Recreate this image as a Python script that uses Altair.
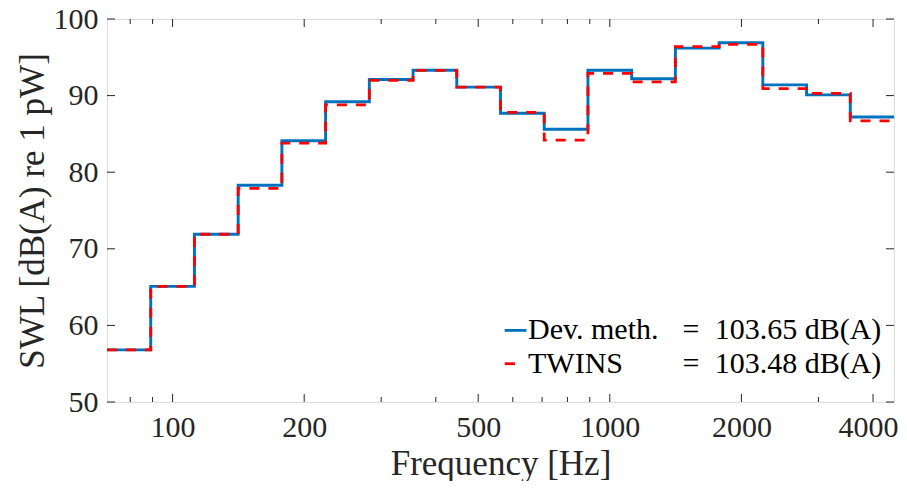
import altair as alt
import pandas as pd
import numpy as np

# ---- data ----
bands = [80, 100, 125, 160, 200, 250, 315, 400, 500, 630, 800, 1000, 1250, 1600, 2000, 2500, 3150, 4000]
dev_meth = [56.8, 65.1, 71.9, 78.3, 84.1, 89.2, 92.1, 93.3, 91.1, 87.7, 85.6, 93.3, 92.2, 96.2, 96.9, 91.4, 90.1, 87.2]
twins = [56.8, 65.1, 71.9, 77.9, 83.8, 88.8, 92.0, 93.3, 91.1, 87.8, 84.2, 92.9, 91.8, 96.4, 96.7, 90.9, 90.3, 86.7]
series_names = ["Dev. meth.", "TWINS"]
series_totals = [103.65, 103.48]
x_major = [100, 200, 500, 1000, 2000, 4000]
x_minor = [80, 90, 300, 400, 600, 700, 800, 900, 3000]
y_ticks = [50, 60, 70, 80, 90, 100]

FONT = "Liberation Serif"
AX = "#262626"
BLUE = "#0072BD"
RED = "#FF0000"
W, H = 787, 383


def edges(fc):
    n = round(10 * np.log10(fc))
    return 10 ** ((n - 0.5) / 10), 10 ** ((n + 0.5) / 10)


def step_df(vals):
    rows = []
    for i, (fc, v) in enumerate(zip(bands, vals)):
        lo, hi = edges(fc)
        rows.append({"f": lo, "v": v, "o": 2 * i})
        rows.append({"f": hi, "v": v, "o": 2 * i + 1})
    return pd.DataFrame(rows)


xmin = edges(bands[0])[0]
xmax = edges(bands[-1])[1]
xscale = alt.Scale(type="log", domain=[xmin, xmax], nice=False)
yscale = alt.Scale(domain=[50, 100], nice=False, zero=False)

xaxis = alt.Axis(values=x_major, format="d", title="Frequency [Hz]", ticks=False, domain=False, grid=False,
                 labelFont=FONT, labelFontSize=30, labelColor=AX, labelPadding=10, labelOverlap=False,
                 labelFlush=False, labelBound=False,
                 labelOffset={"condition": {"test": "datum.value == 4000", "value": -5}, "value": 0},
                 titleFont=FONT, titleFontSize=35, titleFontWeight="normal", titleColor=AX, titlePadding=4)
yaxis = alt.Axis(values=y_ticks, title="SWL [dB(A) re 1 pW]", ticks=False, domain=False, grid=False,
                 labelFont=FONT, labelFontSize=30, labelColor=AX, labelPadding=9, labelOverlap=False,
                 labelFlush=False, labelBound=False,
                 titleFont=FONT, titleFontSize=35, titleFontWeight="normal", titleColor=AX, titlePadding=3)

blue = alt.Chart(step_df(dev_meth)).mark_line(color=BLUE, strokeWidth=2.9).encode(
    x=alt.X("f:Q", scale=xscale, axis=xaxis),
    y=alt.Y("v:Q", scale=yscale, axis=yaxis),
    order="o:Q",
)
red = alt.Chart(step_df(twins)).mark_line(color=RED, strokeWidth=2.8, strokeDash=[10, 9]).encode(
    x=alt.X("f:Q", scale=xscale),
    y=alt.Y("v:Q", scale=yscale),
    order="o:Q",
)


def xticks(vals, size, top):
    d = pd.DataFrame({"t": vals})
    if top:
        yy, yy2 = alt.value(0), alt.value(size)
    else:
        yy, yy2 = alt.value(H), alt.value(H - size)
    return alt.Chart(d).mark_rule(color=AX, strokeWidth=1).encode(
        x=alt.X("t:Q", scale=xscale), y=yy, y2=yy2)


def yticks(vals, size, right):
    d = pd.DataFrame({"t": vals})
    if right:
        xx, xx2 = alt.value(W), alt.value(W - size)
    else:
        xx, xx2 = alt.value(0), alt.value(size)
    return alt.Chart(d).mark_rule(color=AX, strokeWidth=1).encode(
        y=alt.Y("t:Q", scale=yscale), x=xx, x2=xx2)


tick_layers = [
    xticks(x_major, 8, False), xticks(x_major, 8, True),
    xticks(x_minor, 5, False), xticks(x_minor, 5, True),
    yticks(y_ticks, 8, False), yticks(y_ticks, 8, True),
]

# ---- legend (manual, to keep the "=" column aligned) ----
leg = pd.DataFrame({
    "name": series_names,
    "eq": ["="] * 2,
    "tot": [f"{t:.2f} dB(A)" for t in series_totals],
})
row_y = [319.5, 353.5]
sym_y = [311.4, 344.7]
legend_layers = []
for i, (col, x2) in enumerate([(BLUE, 419.4), (RED, 408)]):
    d = leg.iloc[[i]]
    legend_layers.append(alt.Chart(d).mark_rule(color=col, strokeWidth=2.8).encode(
        x=alt.value(397.7), x2=alt.value(x2), y=alt.value(sym_y[i])))
    for field, xpos in [("name", 421), ("eq", 575.4), ("tot", 607.7)]:
        legend_layers.append(alt.Chart(d).mark_text(
            align="left", baseline="alphabetic", font=FONT, fontSize=30, color="#000000").encode(
            text=f"{field}:N", x=alt.value(xpos), y=alt.value(row_y[i])))

chart = alt.layer(blue, red, *tick_layers, *legend_layers).properties(
    width=W, height=H,
    autosize=alt.AutoSizeParams(type="none"),
    padding={"left": 99, "top": 11, "right": 5, "bottom": 79},
).configure_view(stroke=AX, strokeWidth=1).configure(background="white")

chart.save("out.html", embed_options={"renderer": "svg", "actions": False})
